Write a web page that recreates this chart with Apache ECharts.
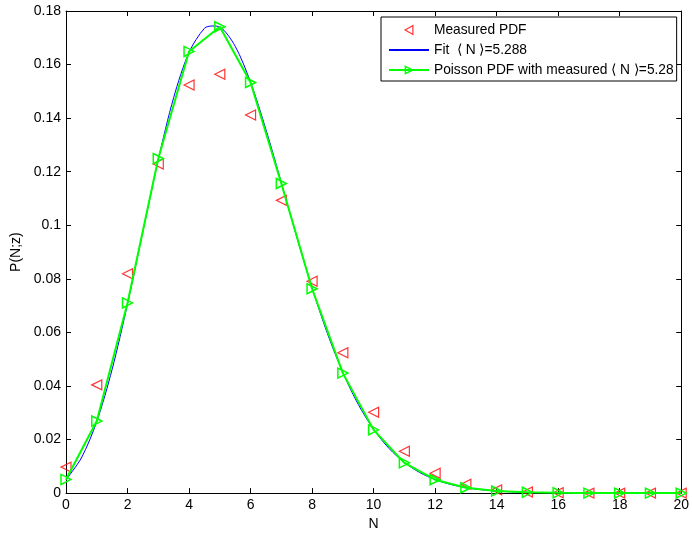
<!DOCTYPE html>
<html>
<head>
<meta charset="utf-8">
<script src="https://cdn.jsdelivr.net/npm/echarts@6/dist/echarts.min.js"></script>
<style>
html,body{margin:0;padding:0;background:#fff;}
#c{width:692px;height:536px;}
</style>
</head>
<body>
<div id="c"></div>
<script>
// ---- data ----
var N = [0,1,2,3,4,5,6,7,8,9,10,11,12,13,14,15,16,17,18,19,20];
var measuredPDF = [0.0097,0.0404,0.0819,0.1229,0.1524,0.1564,0.1412,0.1093,0.0791,0.0524,0.0302,0.0156,0.0074,0.0033,0.0012,0.0004,0.0001,0,0,0,0];
var poissonPDF = [0.0051,0.0269,0.0710,0.1249,0.1649,0.1741,0.1533,0.1156,0.0763,0.0448,0.0236,0.0113,0.0050,0.0020,0.0008,0.0003,0.0001,0,0,0,0];
var fitN = [0,0.5,1,1.5,2,2.5,3,3.5,4,4.5,4.75,5,5.5,6,6.5,7,7.5,8,8.5,9,9.5,10,10.5,11,11.5,12,12.5,13,13.5,14,14.5,15,15.5,16,16.5,17,17.5,18,18.5,19,19.5,20];
var fitP = [0.00505,0.01311,0.02671,0.04621,0.07063,0.09774,0.12450,0.14768,0.16458,0.17354,0.17440,0.17406,0.16685,0.15341,0.13574,0.11589,0.09570,0.07660,0.05954,0.04501,0.03314,0.02380,0.01669,0.01144,0.00768,0.00504,0.00325,0.00205,0.00127,0.00078,0.00046,0.00027,0.00016,0.00009,0.00005,0.00003,0.00002,0.00001,0.000005,0.000002,0.000001,0.0000006];
var xTicks = {min:0, max:20, interval:2};
var yTicks = {min:0, max:0.18, interval:0.02};
var names = ['Measured PDF', 'Fit  \u27E8 N \u27E9=5.288', 'Poisson PDF with measured \u27E8 N \u27E9=5.28'];

function pairs(xs, ys){ return xs.map(function(x,i){return [x, ys[i]];}); }

var FONT = "'Liberation Sans', Arial, Helvetica, sans-serif";
var chart = echarts.init(document.getElementById('c'), null, {renderer:'canvas'});

function xAx(pos, show){
  return {
    type:'value', position:pos, min:xTicks.min, max:xTicks.max, interval:xTicks.interval,
    name: show ? 'N' : '', nameLocation:'middle', nameGap:19,
    nameTextStyle:{color:'#000', fontSize:14, fontFamily:FONT},
    axisLine:{show:true, onZero:false, lineStyle:{color:'#000', width:1}},
    axisTick:{show:true, inside:true, length:5, lineStyle:{color:'#000'}},
    axisLabel:{show:show, color:'#000', fontSize:14, fontFamily:FONT, margin:5},
    splitLine:{show:false}
  };
}
function yAx(pos, show){
  return {
    type:'value', position:pos, min:yTicks.min, max:yTicks.max, interval:yTicks.interval,
    name: show ? 'P(N;z)' : '', nameLocation:'middle', nameGap:36, nameRotate:90,
    nameTextStyle:{color:'#000', fontSize:14, fontFamily:FONT},
    axisLine:{show:true, onZero:false, lineStyle:{color:'#000', width:1}},
    axisTick:{show:true, inside:true, length:5, lineStyle:{color:'#000'}},
    axisLabel:{show:show, color:'#000', fontSize:14, fontFamily:FONT, margin:5},
    splitLine:{show:false}
  };
}

chart.setOption({
  animation:false,
  backgroundColor:'#fff',
  grid:{left:66, right:9, top:11, bottom:39},
  xAxis:[xAx('bottom', true), xAx('top', false)],
  yAxis:[yAx('left', true), yAx('right', false)],
  legend:{
    orient:'vertical', left:381, top:17,
    itemWidth:40, itemHeight:9, itemGap:6,
    padding:[6,3,4,7],
    symbolKeepAspect:true,
    borderColor:'#000', borderWidth:1, backgroundColor:'#fff',
    textStyle:{fontSize:13.75, color:'#000', fontFamily:FONT},
    data:[
      {name:names[0], icon:'path://M0,5L8.66,0L8.66,10Z',
       itemStyle:{color:'rgba(0,0,0,0)', borderColor:'#ff0000', borderWidth:1.2}},
      {name:names[1], itemStyle:{color:'rgba(0,0,0,0)', borderColor:'rgba(0,0,0,0)', borderWidth:0}},
      {name:names[2], itemStyle:{color:'rgba(0,0,0,0)', borderColor:'#00ff00', borderWidth:1.5}}
    ]
  },
  series:[
    {
      name:names[0], type:'scatter', data:pairs(N, measuredPDF),
      symbol:'triangle', symbolSize:10, symbolRotate:90,
      itemStyle:{color:'transparent', borderColor:'#ff0000', borderWidth:1.2},
      z:2
    },
    {
      name:names[1], type:'line', data:pairs(fitN, fitP),
      symbol:'circle', symbolSize:0, showSymbol:false, smooth:0.3,
      itemStyle:{color:'transparent', borderColor:'transparent'},
      lineStyle:{color:'#0000ff', width:1},
      z:3
    },
    {
      name:names[2], type:'line', data:pairs(N, poissonPDF),
      symbol:'triangle', symbolSize:10, symbolRotate:-90, showSymbol:true,
      itemStyle:{color:'transparent', borderColor:'#00ff00', borderWidth:1.5},
      lineStyle:{color:'#00ff00', width:2},
      z:4
    }
  ]
});
</script>
</body>
</html>
